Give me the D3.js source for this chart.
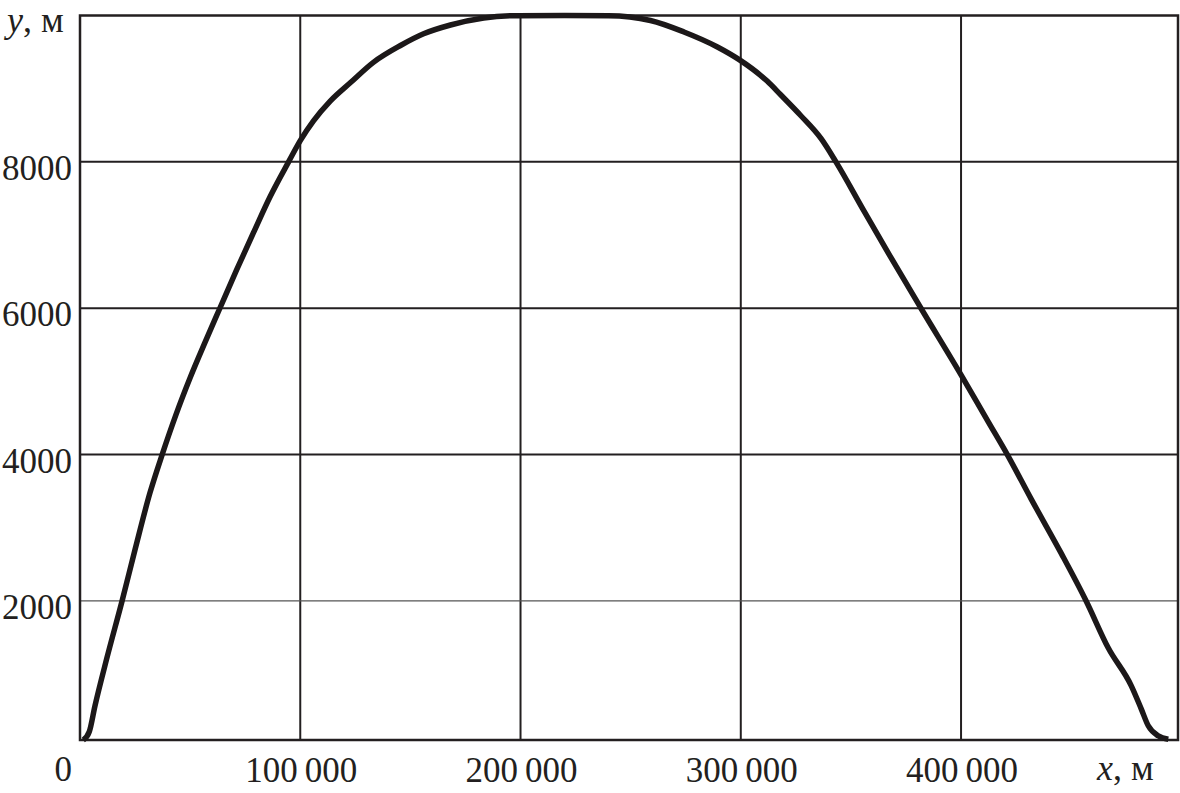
<!DOCTYPE html>
<html>
<head>
<meta charset="utf-8">
<script src="https://cdn.jsdelivr.net/npm/d3@7"></script>
<style>
  html, body { margin: 0; padding: 0; background: #fff; }
  svg { display: block; }
  text { font-family: "Liberation Serif", "DejaVu Serif", serif; fill: #231f20; }
</style>
</head>
<body>
<svg id="chart" width="1180" height="793"></svg>
<script>
// Trajectory data (x in metres, y in metres)
const xValues = [1500, 4200, 6800, 12100, 19100, 25000, 31800, 37300, 43500, 50000, 57000, 63500,
  71200, 78800, 86400, 94700, 100000, 106000, 113600, 122700, 133200, 145500, 156000, 168200,
  183300, 198600, 220000, 240000, 259000, 274200, 289400, 299100, 312100, 318000, 327300, 336400,
  343200, 355900, 368200, 381800, 400000, 412300, 421000, 431800, 445500, 456800, 466800, 477300,
  481800, 485000, 489500, 494100];
const yValues = [100, 212, 567, 1208, 2000, 2703, 3481, 4000, 4540, 5050, 5550, 6000,
  6530, 7035, 7530, 8000, 8290, 8560, 8830, 9080, 9360, 9590, 9750, 9870,
  9966, 9998, 10000, 9998, 9932, 9775, 9570, 9400, 9100, 8920, 8630, 8320,
  8000, 7330, 6690, 6000, 5090, 4450, 4000, 3395, 2650, 2000, 1360, 840,
  526, 294, 157, 110];

const xTicks = [100000, 200000, 300000, 400000];
const xTickLabels = ["100\u2009000", "200\u2009000", "300\u2009000", "400\u2009000"];
const yTicks = [2000, 4000, 6000, 8000];
const yTickLabels = ["2000", "4000", "6000", "8000"];
const xDomain = [0, 498500];
const yDomain = [100, 10000];

const svg = d3.select("#chart");
const pLeft = 80, pRight = 1178, pTop = 15.5, pBottom = 740;

const x = d3.scaleLinear().domain(xDomain).range([pLeft, pRight]);
const y = d3.scaleLinear().domain(yDomain).range([pBottom, pTop]);

// Grid lines
const gv = svg.append("g");
gv.selectAll("line.vx").data(xTicks).join("line")
  .attr("x1", d => x(d)).attr("x2", d => x(d))
  .attr("y1", pTop).attr("y2", pBottom)
  .attr("stroke", "#231f20").attr("stroke-width", 2);
gv.selectAll("line.hy").data(yTicks).join("line")
  .attr("x1", pLeft).attr("x2", pRight)
  .attr("y1", d => y(d)).attr("y2", d => y(d))
  .attr("stroke", d => d === 2000 ? "#555" : "#231f20")
  .attr("stroke-width", d => d === 2000 ? 1.3 : 2);

// Frame
svg.append("rect")
  .attr("x", pLeft).attr("y", pTop)
  .attr("width", pRight - pLeft).attr("height", pBottom - pTop)
  .attr("fill", "none").attr("stroke", "#231f20").attr("stroke-width", 2.5);

// Curve
const pts = xValues.map((v, i) => [v, yValues[i]]);
const line = d3.line().x(d => x(d[0])).y(d => y(d[1])).curve(d3.curveMonotoneX);
svg.append("path").datum(pts)
  .attr("d", line)
  .attr("fill", "none")
  .attr("stroke", "#1c1819")
  .attr("stroke-width", 5.5)
  .attr("stroke-linejoin", "round")
  .attr("stroke-linecap", "butt");

// Y tick labels
svg.append("g").selectAll("text").data(yTicks).join("text")
  .attr("x", 72).attr("y", d => y(d) + 18)
  .attr("text-anchor", "end")
  .attr("font-size", 35)
  .text((d, i) => yTickLabels[i]);

// X tick labels
svg.append("g").selectAll("text").data(xTicks).join("text")
  .attr("x", d => x(d) + 1).attr("y", 782)
  .attr("text-anchor", "middle")
  .attr("font-size", 35)
  .text((d, i) => xTickLabels[i]);

// Origin label
svg.append("text").attr("x", 72).attr("y", 781)
  .attr("text-anchor", "end").attr("font-size", 35).text("0");

// Axis titles
const yt = svg.append("text").attr("x", 7).attr("y", 32).attr("font-size", 36);
yt.append("tspan").attr("font-style", "italic").text("y");
yt.append("tspan").text(", м");

const xt = svg.append("text").attr("x", 1097).attr("y", 780).attr("font-size", 36);
xt.append("tspan").attr("font-style", "italic").text("x");
xt.append("tspan").text(", м");
</script>
</body>
</html>
